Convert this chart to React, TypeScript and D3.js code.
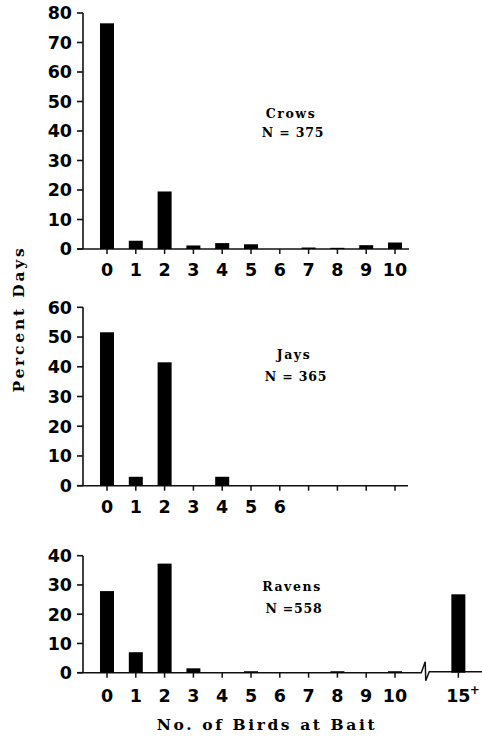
import React from "react";
import * as d3 from "d3";

const crowCats = ["0", "1", "2", "3", "4", "5", "6", "7", "8", "9", "10"];
const crowVals = [76.5, 2.8, 19.5, 1.2, 2.0, 1.6, 0, 0.5, 0.4, 1.3, 2.2];

const jayCats = ["0", "1", "2", "3", "4", "5", "6", "7", "8", "9", "10"];
const jayVals = [51.6, 3.0, 41.5, 0, 3.0, 0, 0, 0, 0, 0, 0];
const jayTickLabels = ["0", "1", "2", "3", "4", "5", "6"];

const ravenCats = ["0", "1", "2", "3", "4", "5", "6", "7", "8", "9", "10", "15+"];
const ravenVals = [27.9, 7.0, 37.3, 1.5, 0, 0.5, 0, 0, 0.5, 0, 0.5, 26.8];
// slot position of each category along the axis (15+ sits after a break)
const ravenSlots = [0, 1, 2, 3, 4, 5, 6, 7, 8, 9, 10, 12.2];

const crowTicks = [0, 10, 20, 30, 40, 50, 60, 70, 80];
const jayTicks = [0, 10, 20, 30, 40, 50, 60];
const ravenTicks = [0, 10, 20, 30, 40];

const sans = "'DejaVu Sans', sans-serif";
const serif = "'DejaVu Serif', serif";

const x = d3.scaleLinear().domain([0, 10]).range([107, 395]);
const BAR_W = 14;
const AX_X = 83;
const TICK_FS = 17.5;

type PanelProps = {
  cats: string[];
  vals: number[];
  slots: number[];
  ticks: number[];
  yTop: number;
  yBase: number;
  xLabels: string[];
  xLabelY: number;
  lineEnd: number;
  name: string;
  nLabel: string;
  nameX: number;
  nameY: number;
  nY: number;
  brk?: boolean;
};

function Panel(p: PanelProps) {
  const max = p.ticks[p.ticks.length - 1];
  const y = d3.scaleLinear().domain([0, max]).range([p.yBase, p.yTop]);
  const stroke = "#111";
  const breakX = x(11.05);
  return (
    <g>
      <line x1={AX_X} x2={AX_X} y1={y(max)} y2={y(0)} stroke={stroke} strokeWidth={1.6} />
      {p.ticks.map((t) => (
        <g key={t}>
          <line x1={AX_X - 6} x2={AX_X} y1={y(t)} y2={y(t)} stroke={stroke} strokeWidth={1.6} />
          <text
            x={AX_X - 11}
            y={y(t)}
            dy="0.36em"
            textAnchor="end"
            fontFamily={sans}
            fontWeight="bold"
            fontSize={TICK_FS}
            fill="#000"
          >
            {t}
          </text>
        </g>
      ))}
      {p.brk ? (
        <path
          d={`M${AX_X - 6},${y(0)} L${breakX - 4},${y(0)} L${breakX},${y(0) - 11} L${breakX + 0.5},${y(0) + 8} L${breakX + 4},${y(0) - 1} L${p.lineEnd},${y(0) - 1}`}
          fill="none"
          stroke={stroke}
          strokeWidth={1.5}
        />
      ) : (
        <line x1={AX_X - 6} x2={p.lineEnd} y1={y(0)} y2={y(0)} stroke={stroke} strokeWidth={1.6} />
      )}
      {p.vals.map((v, i) => (
        <rect
          key={p.cats[i]}
          x={x(p.slots[i]) - BAR_W / 2}
          y={y(v)}
          width={BAR_W}
          height={y(0) - y(v)}
          fill="#000"
        />
      ))}
      {p.slots.map((s, i) => (
        <line
          key={"t" + i}
          x1={x(s)}
          x2={x(s)}
          y1={y(0)}
          y2={y(0) + 5}
          stroke={stroke}
          strokeWidth={1.5}
        />
      ))}
      {p.xLabels.map((lab, i) => {
        const cx = x(p.slots[i]);
        if (lab.endsWith("+")) {
          return (
            <g key={"l" + i}>
              <text x={cx} y={p.xLabelY} textAnchor="middle" fontFamily={sans} fontWeight="bold" fontSize={TICK_FS}>
                {lab.slice(0, -1)}
              </text>
              <text x={cx + 16.5} y={p.xLabelY - 8} textAnchor="middle" fontFamily={sans} fontWeight="bold" fontSize={12}>
                +
              </text>
            </g>
          );
        }
        return (
          <text key={"l" + i} x={cx} y={p.xLabelY} textAnchor="middle" fontFamily={sans} fontWeight="bold" fontSize={TICK_FS}>
            {lab}
          </text>
        );
      })}
      <text x={p.nameX} y={p.nameY} dy="0.36em" textAnchor="middle" fontFamily={serif} fontWeight="bold" fontSize={12.5} letterSpacing={1.6}>
        {p.name}
      </text>
      <text x={p.nameX + 2} y={p.nY} dy="0.36em" textAnchor="middle" fontFamily={serif} fontWeight="bold" fontSize={12.5} letterSpacing={0.8}>
        {p.nLabel}
      </text>
    </g>
  );
}

export default function App() {
  const idx = crowCats.map((_, i) => i);
  return (
    <svg width={482} height={736} style={{ position: "absolute", left: 0, top: 0, background: "#fff" }}>
      <rect width={482} height={736} fill="#fff" />
      <Panel
        cats={crowCats}
        vals={crowVals}
        slots={idx}
        ticks={crowTicks}
        yTop={13}
        yBase={249}
        xLabels={crowCats}
        xLabelY={276}
        lineEnd={409}
        name="Crows"
        nLabel="N = 375"
        nameX={291}
        nameY={113}
        nY={132}
      />
      <Panel
        cats={jayCats}
        vals={jayVals}
        slots={idx}
        ticks={jayTicks}
        yTop={307.3}
        yBase={485.7}
        xLabels={jayTickLabels}
        xLabelY={513}
        lineEnd={408}
        name="Jays"
        nLabel="N = 365"
        nameX={294}
        nameY={354}
        nY={376}
      />
      <Panel
        cats={ravenCats}
        vals={ravenVals}
        slots={ravenSlots}
        ticks={ravenTicks}
        yTop={555.7}
        yBase={672.7}
        xLabels={ravenCats}
        xLabelY={702}
        lineEnd={482}
        name="Ravens"
        nLabel="N =558"
        nameX={292}
        nameY={586}
        nY={608}
        brk
      />
      <text
        transform="translate(24,319) rotate(-90)"
        textAnchor="middle"
        fontFamily={serif}
        fontWeight="bold"
        fontSize={15.5}
        letterSpacing={2.8}
      >
        Percent Days
      </text>
      <text x={267} y={730} textAnchor="middle" fontFamily={serif} fontWeight="bold" fontSize={15.5} letterSpacing={2.6}>
        No. of Birds at Bait
      </text>
    </svg>
  );
}
